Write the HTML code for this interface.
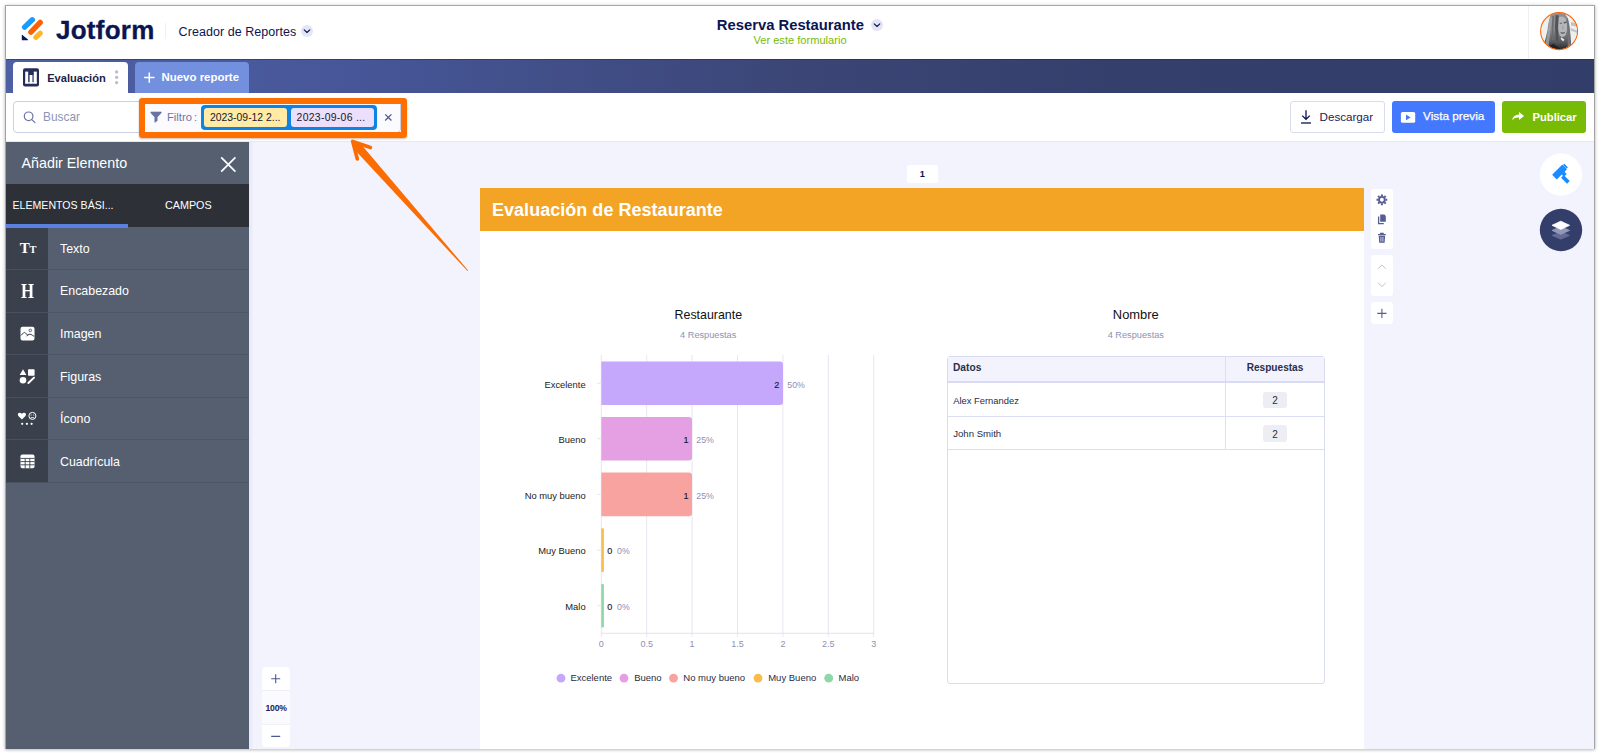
<!DOCTYPE html>
<html lang="es">
<head>
<meta charset="utf-8">
<title>Jotform - Creador de Reportes</title>
<style>
*{box-sizing:border-box;margin:0;padding:0}
html,body{width:1600px;height:755px;overflow:hidden;background:#fff}
body{font-family:"Liberation Sans",sans-serif;color:#0a1551;position:relative}
.abs,.t{position:absolute}
.t{white-space:nowrap;line-height:1}
.c{transform:translateX(-50%)}
#frame{position:absolute;left:5px;top:5px;width:1590px;height:744px;background:#fff;
 border-top:1px solid #a8a8a8;border-left:1px solid #a4a4a4;border-right:1px solid #a4a4a4;
 box-shadow:0 1px 3px rgba(0,0,0,.22), 0 0 4px rgba(0,0,0,.10)}
#app{position:absolute;left:6px;top:6px;width:1588px;height:742.7px;overflow:hidden;background:#fff}
/* everything inside #app is positioned in page coords via offset wrapper */
#o{position:absolute;left:-6px;top:-6px;width:1600px;height:755px}
#tabbar{left:6px;top:58.6px;width:1588px;height:34.4px;box-shadow:inset 0 1px 0 rgba(25,35,90,.45);background:linear-gradient(90deg,#4e60a4 0%,#47579a 20%,#3b4676 50%,#353f6c 70%,#333d69 100%)}
#tab1{left:13px;top:62px;width:115px;height:31px;background:#fff;border-radius:4px 4px 0 0}
#tab2{left:135px;top:62px;width:114px;height:31px;background:#7390de;border-radius:4px 4px 0 0}
#toolbar{left:6px;top:93px;width:1588px;height:49px;background:#fff;border-bottom:1px solid #e6e7f2}
#canvas{left:249px;top:142px;width:1345px;height:607px;background:#f3f3fe}
#side{left:6px;top:142px;width:243px;height:607px;background:#555f70}
</style>
</head>
<body>
<div id="frame"></div>
<div id="app"><div id="o">

<!-- HEADER -->
<div id="hdr">
<svg class="abs" style="left:20px;top:15px" width="26" height="28" viewBox="20 15 26 28">
 <line x1="24.6" y1="27.1" x2="32.3" y2="19.8" stroke="#1a9bff" stroke-width="5.4" stroke-linecap="round"/>
 <line x1="30.9" y1="32.1" x2="40.2" y2="22.4" stroke="#ff6100" stroke-width="5.4" stroke-linecap="round"/>
 <line x1="35.9" y1="37.3" x2="40.3" y2="33.2" stroke="#ffb629" stroke-width="5.2" stroke-linecap="round"/>
 <path d="M21.8 34.4 L28 39.6 Q28.3 40.2 27.6 40.2 L21.8 40.2 Z" fill="#0a1551"/>
</svg>
<span class="t" id="h_jot" style="left:56px;top:17px;font-size:26px;font-weight:700;letter-spacing:0.25px;-webkit-text-stroke:.3px #0a1551;color:#0a1551">Jotform</span>
<div class="abs" style="left:165px;top:23px;width:1px;height:16px;background:#eeeff8"></div>
<span class="t" id="h_cre" style="left:178.6px;top:26.2px;letter-spacing:.05px;font-size:12.5px;color:#0a1551">Creador de Reportes</span>
<svg class="abs" style="left:301px;top:25.3px" width="12" height="12" viewBox="0 0 12 12"><circle cx="6" cy="6" r="6" fill="#e3e5f5"/><path d="M3.2 4.9 L6 7.5 L8.8 4.9" fill="none" stroke="#0a1551" stroke-width="1.15" stroke-linecap="round" stroke-linejoin="round"/></svg>
<span class="t c" id="h_title" style="left:790.4px;top:17.6px;font-size:14.8px;font-weight:700;color:#0a1551">Reserva Restaurante</span>
<svg class="abs" style="left:871px;top:19px" width="12" height="12" viewBox="0 0 12 12"><circle cx="6" cy="6" r="6" fill="#e3e5f5"/><path d="M3.2 4.9 L6 7.5 L8.8 4.9" fill="none" stroke="#0a1551" stroke-width="1.15" stroke-linecap="round" stroke-linejoin="round"/></svg>
<span class="t c" id="h_ver" style="left:800px;top:34.5px;font-size:11.1px;color:#78bb07">Ver este formulario</span>
<div class="abs" style="left:1528px;top:6px;width:1px;height:53px;background:#efeff4"></div>
<svg class="abs" style="left:1536px;top:8px" width="46" height="46" viewBox="0 0 46 46">
 <defs><clipPath id="avc"><circle cx="23.1" cy="23.1" r="18.2"/></clipPath>
 <linearGradient id="avh" x1="0" y1="0" x2="0" y2="1"><stop offset="0" stop-color="#8e9093"/><stop offset=".45" stop-color="#85878b"/><stop offset=".75" stop-color="#5a5d61"/><stop offset="1" stop-color="#1d2022"/></linearGradient>
 <filter id="avb" x="-10%" y="-10%" width="120%" height="120%"><feGaussianBlur stdDeviation=".7"/></filter></defs>
 <g clip-path="url(#avc)"><g filter="url(#avb)">
  <rect width="46" height="46" fill="#eef0ef"/>
  <path d="M35 14 L43 16 L43 19 L35 17.5 Z M34.5 20 L43 23.5 L43 25.5 L34.5 22.5 Z" fill="#bfc3c3"/>
  <path d="M36 8 L40 12 L38 14 Z" fill="#8f9496"/>
  <path d="M15.5 5 L27 4 Q32.5 8 33.6 18 Q34.8 28 35.2 38 L30 43 L14 43 L7.5 37 Q10 30 11.5 22 Q12.5 12 15.5 5 Z" fill="url(#avh)"/>
  <path d="M13.5 10 Q12 24 9.5 36 L12.5 38 Q14.5 24 16.5 9 Z" fill="#a3a5a8" opacity=".8"/>
  <path d="M22.6 9 Q29.5 6.5 31 15 Q31.6 22 29.6 27.2 Q26.5 30.5 23.6 27.6 Q21.4 19 22.6 9 Z" fill="#b4b6b9"/>
  <path d="M19.6 7 Q18.4 20 20 33 L22.6 33 Q21 20 22.8 7.5 Z" fill="#4f5256"/>
  <path d="M16.4 8 Q15.4 20 16.2 32 L17.6 32 Q17 20 18 8 Z" fill="#6a6d71"/>
  <path d="M27.6 14 L30.6 13.4 L30.6 15 L27.8 15.4 Z" fill="#55585c"/>
  <path d="M23.6 15 L26 14.6 L26 15.8 L23.8 16 Z" fill="#6c6f73"/>
  <path d="M24.4 23.8 Q26.6 25.4 29 23.8 L28.6 25.2 Q26.6 26.4 24.8 25.2 Z" fill="#5c5f63"/>
  <path d="M26.8 17 L27.8 21 L26 21.4 Z" fill="#9a9c9f"/>
  <path d="M25.2 29.2 L28.4 31.6 L27.2 33.4 L24.8 31 Z" fill="#e9e9e9"/>
  <path d="M31.4 10 Q34 18 33.6 30 L35.4 38 L31.6 40 Q32.6 24 30.4 12 Z" fill="#6f7276"/>
  <path d="M11 44 Q13 38 17 35.5 Q22 39 30 44 Z" fill="#1b1e20" opacity=".8"/>
 </g></g>
 <circle cx="23.1" cy="23.1" r="18.5" fill="none" stroke="#ff6100" stroke-width="1.05"/>
</svg>
</div>

<!-- TAB BAR -->
<div class="abs" id="tabbar"></div>
<div class="abs" id="tab1"></div>
<svg class="abs" style="left:22px;top:67px" width="18" height="20" viewBox="0 0 18 20"><rect x="1" y="1.2" width="16" height="18.2" rx="2" fill="#252d5b"/><rect x="3.2" y="4.6" width="3" height="11.8" fill="#fff"/><rect x="7.6" y="8" width="2.8" height="8.4" fill="#fff"/><rect x="10.4" y="8" width="1" height="8.4" fill="#8d92b2"/><rect x="11.8" y="4.6" width="3" height="11.8" fill="#fff"/><rect x="3.2" y="15.2" width="11.6" height="1.4" fill="#fff"/></svg>
<span class="t" id="t_eval" style="left:47.2px;top:72.5px;font-size:11.1px;font-weight:700;color:#1c2145">Evaluación</span>
<svg class="abs" style="left:114px;top:69px" width="6" height="17" viewBox="0 0 6 17"><circle cx="2.6" cy="2.9" r="1.6" fill="#b6b9d0"/><circle cx="2.6" cy="8.3" r="1.6" fill="#b6b9d0"/><circle cx="2.6" cy="13.6" r="1.6" fill="#b6b9d0"/></svg>
<div class="abs" id="tab2"></div>
<svg class="abs" style="left:143px;top:71px" width="13" height="13" viewBox="0 0 13 13"><path d="M6.3 1.4 V11.8 M1.1 6.6 H11.5" stroke="#fff" stroke-width="1.5" fill="none"/></svg>
<span class="t" id="t_new" style="left:161.5px;top:72px;font-size:11.45px;font-weight:700;color:#fff">Nuevo reporte</span>

<!-- TOOLBAR -->
<div class="abs" id="toolbar"></div>
<div class="abs" style="left:13px;top:101px;width:140px;height:32px;border:1px solid #ccd0e3;border-radius:4px;background:#fff"></div>
<svg class="abs" style="left:21px;top:109px" width="17" height="17" viewBox="0 0 17 17"><circle cx="7.6" cy="7.3" r="4.3" fill="none" stroke="#6c73a8" stroke-width="1.2"/><path d="M10.8 10.6 L14 13.6" stroke="#6c73a8" stroke-width="1.2" stroke-linecap="round"/></svg>
<span class="t" id="t_bus" style="left:43px;top:112.4px;font-size:11.9px;color:#8f95b6">Buscar</span>
<!-- filter -->
<div class="abs" style="left:141px;top:101px;width:260px;height:32px;border:1px solid #ccd0e3;border-radius:4px;background:#fafaff"></div>
<svg class="abs" style="left:149px;top:110px" width="14" height="14" viewBox="0 0 14 14"><path d="M1.9 2 H12.2 V2.9 L8.2 7.2 V10.8 L5.8 12.3 V7.2 L1.9 2.9 Z" fill="#6b71a6" stroke="#6b71a6" stroke-width=".6" stroke-linejoin="round"/></svg>
<span class="t" id="t_fil" style="left:167px;top:112px;font-size:11.2px;color:#6f76a7">Filtro<span style="margin-left:2px">:</span></span>
<div class="abs" style="left:201px;top:104.5px;width:176px;height:25px;background:#0d84e3;border-radius:4px"></div>
<div class="abs" style="left:204px;top:107.9px;width:83.2px;height:19.1px;background:#ffeaa6;border-radius:3px"></div>
<div class="abs" style="left:290.5px;top:107.9px;width:83.5px;height:19.1px;background:#ebdffb;border-radius:3px"></div>
<span class="t" id="t_c1" style="left:210px;top:113px;font-size:10.4px;color:#15172b">2023-09-12 2...</span>
<span class="t" id="t_c2" style="left:296.6px;top:113px;font-size:10.4px;letter-spacing:.3px;color:#15172b">2023-09-06 ...</span>
<svg class="abs" style="left:383px;top:111.6px" width="11" height="11" viewBox="0 0 11 11"><path d="M2.2 2.3 L8.4 8.5 M8.4 2.3 L2.2 8.5" stroke="#4f5590" stroke-width="1.2" fill="none"/></svg>
<!-- right buttons -->
<div class="abs" style="left:1290px;top:101px;width:94.5px;height:32px;border:1px solid #d9dcea;border-radius:3px;background:#fff"></div>
<svg class="abs" style="left:1299px;top:108px" width="14" height="17" viewBox="0 0 14 17"><path d="M7 2.2 V11 M3.2 7.6 L7 11.3 L10.8 7.6" stroke="#0a1551" stroke-width="1.3" fill="none"/><path d="M2 15 H12" stroke="#0a1551" stroke-width="1.3"/></svg>
<span class="t" id="t_des" style="left:1319.5px;top:110.6px;font-size:11.65px;color:#1b2256">Descargar</span>
<div class="abs" style="left:1392px;top:101px;width:102.5px;height:32px;border-radius:3px;background:#4479ff"></div>
<svg class="abs" style="left:1400px;top:111px" width="16" height="13" viewBox="0 0 16 13"><rect x=".9" y="1" width="14.3" height="10.8" rx="1.6" fill="#fff"/><path d="M6 3.6 L10.6 6.4 L6 9.2 Z" fill="#4479ff"/></svg>
<span class="t" id="t_vis" style="left:1423px;top:111.1px;font-size:11.8px;color:#fff;-webkit-text-stroke:.25px #fff">Vista previa</span>
<div class="abs" style="left:1502.3px;top:101px;width:84px;height:32px;border-radius:3px;background:#78bb07"></div>
<svg class="abs" style="left:1511px;top:111px" width="14" height="11" viewBox="0 0 14 11"><path d="M8 1 L13 5 L8 9 V6.6 Q3.6 6.2 1 9.6 Q1.8 4 8 3.4 Z" fill="#fff"/></svg>
<span class="t" id="t_pub" style="left:1532.5px;top:111.6px;font-size:11.2px;font-weight:700;color:#fff">Publicar</span>

<!-- CANVAS -->
<div class="abs" id="canvas"></div>
<div class="abs" style="left:249px;top:142px;width:4px;height:607px;background:linear-gradient(90deg,#e6e6f5,#f0f0fc)"></div>
<div id="cv">
<div class="abs" style="left:906.5px;top:164.5px;width:31.5px;height:18.5px;background:#fff;border-radius:2px"></div>
<span class="t c" id="pg1" style="left:922.2px;top:169.6px;font-size:9.2px;font-weight:700;color:#0a1551">1</span>
<div class="abs" style="left:479.6px;top:187.6px;width:884.8px;height:561px;background:#fff"></div>
<div class="abs" style="left:479.6px;top:187.6px;width:884.8px;height:43.4px;background:#f3a424"></div>
<span class="t" id="pg_title" style="left:492px;top:200.9px;letter-spacing:.03px;font-size:18px;font-weight:700;color:#fff">Evaluación de Restaurante</span>
<span class="t c" id="c_t" style="left:708.3px;top:309.4px;font-size:12.4px;color:#111">Restaurante</span>
<span class="t c" id="c_s" style="left:708.2px;top:331.1px;font-size:9.2px;color:#8c91b6">4 Respuestas</span>
<svg class="abs" style="left:480px;top:345px" width="440" height="350" viewBox="480 345 440 350">
<line x1="601.3" y1="355" x2="601.3" y2="637" stroke="#e6e7f1" stroke-width="1"/>
<line x1="646.7" y1="355" x2="646.7" y2="637" stroke="#e6e7f1" stroke-width="1"/>
<line x1="692.1" y1="355" x2="692.1" y2="637" stroke="#e6e7f1" stroke-width="1"/>
<line x1="737.5" y1="355" x2="737.5" y2="637" stroke="#e6e7f1" stroke-width="1"/>
<line x1="782.9" y1="355" x2="782.9" y2="637" stroke="#e6e7f1" stroke-width="1"/>
<line x1="828.3" y1="355" x2="828.3" y2="637" stroke="#e6e7f1" stroke-width="1"/>
<line x1="873.7" y1="355" x2="873.7" y2="637" stroke="#e6e7f1" stroke-width="1"/>
<line x1="601.3" y1="633.3" x2="874" y2="633.3" stroke="#e0e1ee" stroke-width="1"/>
<path d="M601.3 361.6 H780.0 Q783.0 361.6 783.0 364.6 V402.0 Q783.0 405.0 780.0 405.0 H601.3 Z" fill="#c5a8fb"/>
<path d="M601.3 417.0 H689.0 Q692.0 417.0 692.0 420.0 V457.6 Q692.0 460.6 689.0 460.6 H601.3 Z" fill="#e4a0e3"/>
<path d="M601.3 472.6 H689.0 Q692.0 472.6 692.0 475.6 V513.3 Q692.0 516.3 689.0 516.3 H601.3 Z" fill="#f9a3a0"/>
<path d="M601.3 528.3 H602.6 Q603.9 528.3 603.9 529.6 V570.7 Q603.9 572.0 602.6 572.0 H601.3 Z" fill="#fbbc4b"/>
<path d="M601.3 584.0 H602.6 Q603.9 584.0 603.9 585.3 V626.2 Q603.9 627.5 602.6 627.5 H601.3 Z" fill="#90d6a9"/>
<line x1="597" y1="383.3" x2="601.3" y2="383.3" stroke="#e6e7f1" stroke-width="1"/>
<line x1="597" y1="438.8" x2="601.3" y2="438.8" stroke="#e6e7f1" stroke-width="1"/>
<line x1="597" y1="494.4" x2="601.3" y2="494.4" stroke="#e6e7f1" stroke-width="1"/>
<line x1="597" y1="550.1" x2="601.3" y2="550.1" stroke="#e6e7f1" stroke-width="1"/>
<line x1="597" y1="605.7" x2="601.3" y2="605.7" stroke="#e6e7f1" stroke-width="1"/>
<circle cx="561.0" cy="678.2" r="4.4" fill="#c5a8fb"/>
<circle cx="624.0" cy="678.2" r="4.4" fill="#e4a0e3"/>
<circle cx="673.5" cy="678.2" r="4.4" fill="#f9a3a0"/>
<circle cx="758.0" cy="678.2" r="4.4" fill="#fbbc4b"/>
<circle cx="828.7" cy="678.2" r="4.4" fill="#90d6a9"/>
</svg>
<span class="t" id="cat0" style="right:1014.4px;top:379.6px;font-size:9.4px;color:#222">Excelente</span>
<span class="t" id="cat1" style="right:1014.4px;top:435.1px;font-size:9.4px;color:#222">Bueno</span>
<span class="t" id="cat2" style="right:1014.4px;top:490.6px;font-size:9.4px;color:#222">No muy bueno</span>
<span class="t" id="cat3" style="right:1014.4px;top:546.1px;font-size:9.4px;color:#222">Muy Bueno</span>
<span class="t" id="cat4" style="right:1014.4px;top:601.6px;font-size:9.4px;color:#222">Malo</span>
<span class="t" id="v0" style="right:820.7px;top:380.5px;font-size:9px;font-weight:400;-webkit-text-stroke:.15px #16192e;color:#16192e">2</span>
<span class="t" id="p0" style="left:787.3px;top:380.5px;font-size:8.8px;color:#8c91b6">50%</span>
<span class="t" id="v1" style="right:911.4px;top:436.1px;font-size:9px;font-weight:400;-webkit-text-stroke:.15px #16192e;color:#16192e">1</span>
<span class="t" id="p1" style="left:696.3px;top:436.1px;font-size:8.8px;color:#8c91b6">25%</span>
<span class="t" id="v2" style="right:911.4px;top:491.6px;font-size:9px;font-weight:400;-webkit-text-stroke:.15px #16192e;color:#16192e">1</span>
<span class="t" id="p2" style="left:696.3px;top:491.6px;font-size:8.8px;color:#8c91b6">25%</span>
<span class="t" id="v3" style="left:607.3px;top:547.2px;font-size:9px;font-weight:400;-webkit-text-stroke:.15px #16192e;color:#16192e">0</span>
<span class="t" id="p3" style="left:617px;top:547.2px;font-size:8.8px;color:#8c91b6">0%</span>
<span class="t" id="v4" style="left:607.3px;top:602.7px;font-size:9px;font-weight:400;-webkit-text-stroke:.15px #16192e;color:#16192e">0</span>
<span class="t" id="p4" style="left:617px;top:602.7px;font-size:8.8px;color:#8c91b6">0%</span>
<span class="t c" id="ax0" style="left:601.3px;top:639.6px;font-size:9px;color:#8c91b6">0</span>
<span class="t c" id="ax1" style="left:646.7px;top:639.6px;font-size:9px;color:#8c91b6">0.5</span>
<span class="t c" id="ax2" style="left:692.1px;top:639.6px;font-size:9px;color:#8c91b6">1</span>
<span class="t c" id="ax3" style="left:737.5px;top:639.6px;font-size:9px;color:#8c91b6">1.5</span>
<span class="t c" id="ax4" style="left:782.9px;top:639.6px;font-size:9px;color:#8c91b6">2</span>
<span class="t c" id="ax5" style="left:828.3px;top:639.6px;font-size:9px;color:#8c91b6">2.5</span>
<span class="t c" id="ax6" style="left:873.7px;top:639.6px;font-size:9px;color:#8c91b6">3</span>
<span class="t" id="lg0" style="left:570.4px;top:673.4px;font-size:9.5px;color:#2a2c3f">Excelente</span>
<span class="t" id="lg1" style="left:634.2px;top:673.4px;font-size:9.5px;color:#2a2c3f">Bueno</span>
<span class="t" id="lg2" style="left:683.3px;top:673.4px;font-size:9.5px;color:#2a2c3f">No muy bueno</span>
<span class="t" id="lg3" style="left:768.2px;top:673.4px;font-size:9.5px;color:#2a2c3f">Muy Bueno</span>
<span class="t" id="lg4" style="left:838.5px;top:673.4px;font-size:9.5px;color:#2a2c3f">Malo</span>
<span class="t c" id="n_t" style="left:1135.8px;top:309.2px;font-size:12.9px;color:#111">Nombre</span>
<span class="t c" id="n_s" style="left:1135.8px;top:331.2px;font-size:9.2px;color:#8c91b6">4 Respuestas</span>
<div class="abs" style="left:947px;top:355.6px;width:378px;height:328px;border:1px solid #d9dbf2;border-radius:3px;background:#fff"></div>
<div class="abs" style="left:948px;top:356.6px;width:376px;height:26.8px;background:#f3f3fe;border-bottom:2px solid #d9dbf2"></div>
<div class="abs" style="left:948px;top:416.2px;width:376px;height:1px;background:#dcdef3"></div>
<div class="abs" style="left:948px;top:449.3px;width:376px;height:1px;background:#dcdef3"></div>
<div class="abs" style="left:1225px;top:356.6px;width:1px;height:93px;background:#dcdef3"></div>
<span class="t" id="th1" style="left:953px;top:362.7px;font-size:10.2px;font-weight:700;color:#2b2f4a">Datos</span>
<span class="t c" id="th2" style="left:1275px;top:362.7px;font-size:10.1px;font-weight:700;color:#2b2f4a">Respuestas</span>
<span class="t" id="td1" style="left:953.2px;top:395.6px;font-size:9.4px;color:#2a2c3f">Alex Fernandez</span>
<span class="t" id="td2" style="left:953.2px;top:428.7px;font-size:9.6px;color:#2a2c3f">John Smith</span>
<div class="abs" style="left:1263px;top:391.6px;width:24px;height:16.8px;background:#ededf4;border-radius:3px"></div>
<span class="t c" id="bd0" style="left:1275px;top:396.4px;font-size:10px;color:#2a2c3f">2</span>
<div class="abs" style="left:1263px;top:424.8px;width:24px;height:16.8px;background:#ededf4;border-radius:3px"></div>
<span class="t c" id="bd1" style="left:1275px;top:429.6px;font-size:10px;color:#2a2c3f">2</span>
<div class="abs" style="left:1371px;top:189px;width:22px;height:59.6px;background:#fff;border-radius:3px"></div>
<div class="abs" style="left:1371px;top:255.2px;width:22px;height:41px;background:#fff;border-radius:3px"></div>
<div class="abs" style="left:1371px;top:302.3px;width:22px;height:22.2px;background:#fff;border-radius:3px"></div>
<svg class="abs" style="left:1371px;top:189px" width="22" height="136" viewBox="0 0 22 136">
<g fill="none" stroke="#565c94" stroke-width="1.9"><circle cx="10.9" cy="10.8" r="2.9"/></g>
<g stroke="#565c94" stroke-width="2" stroke-linecap="butt"><path d="M10.9 5.4 V7 M10.9 14.6 V16.2 M5.5 10.8 H7.1 M14.7 10.8 H16.3 M7.1 7 L8.2 8.1 M13.6 13.5 L14.7 14.6 M14.7 7 L13.6 8.1 M8.2 13.5 L7.1 14.6"/></g>
<path d="M9.2 25.6 H13.4 L14.8 27 V32.8 H9.2 Z" fill="#565c94"/><path d="M7.6 27.6 V34.6 H12.8" fill="none" stroke="#565c94" stroke-width="1.3"/>
<path d="M7 45.6 H14.8 M9.6 45.4 V44.4 H12.2 V45.4" stroke="#565c94" stroke-width="1.1" fill="none"/><path d="M7.7 46.8 H14.1 L13.6 53.8 H8.2 Z" fill="#565c94"/><path d="M9.9 48 V52.6 M11.9 48 V52.6" stroke="#fff" stroke-width=".7"/>
<path d="M7.2 79.6 L10.9 76 L14.6 79.6" fill="none" stroke="#bcbfd7" stroke-width="1"/>
<path d="M7.2 94 L10.9 97.6 L14.6 94" fill="none" stroke="#bcbfd7" stroke-width="1"/>
<path d="M10.9 119.8 V129 M6.3 124.4 H15.5" stroke="#565c94" stroke-width="1.1" fill="none"/>
</svg>
<svg class="abs" style="left:1538px;top:151px" width="46" height="102" viewBox="1538 151 46 102">
<circle cx="1561" cy="174.5" r="21.2" fill="#fff"/>
<g transform="translate(1559.8 171.8) rotate(-45)"><rect x="-7.6" y="-3.3" width="14.6" height="6.6" rx=".7" fill="#1a8cff"/><rect x="7.2" y="-2.6" width="1.7" height="5.2" rx=".5" fill="#1a8cff"/><rect x="-.6" y="3" width="4" height="3.4" fill="#1a8cff"/></g>
<path d="M1562.4 176.3 L1568.4 182.3" stroke="#1a8cff" stroke-width="3.8" stroke-linecap="butt"/>
<circle cx="1561" cy="230" r="21.2" fill="#343e6b"/>
<path d="M1560.8 231.6 L1552 235.4 L1560.8 239.2 L1569.6 235.4 Z" fill="#626a95" stroke="#626a95" stroke-width=".8" stroke-linejoin="round"/>
<path d="M1560.8 226.4 L1552 230.4 L1560.8 234.4 L1569.6 230.4 Z" fill="#9298ba" stroke="#9298ba" stroke-width=".8" stroke-linejoin="round"/>
<path d="M1560.8 221.2 L1552 225.3 L1560.8 229.4 L1569.6 225.3 Z" fill="#fff" stroke="#fff" stroke-width=".8" stroke-linejoin="round"/>
</svg>
<div class="abs" style="left:262px;top:667.3px;width:28px;height:79.5px;background:#fff;border-radius:4px"></div>
<div class="abs" style="left:262px;top:689.6px;width:28px;height:35px;background:#fafaff;border-top:1px solid #f0f0f8;border-bottom:1px solid #f0f0f8"></div>
<svg class="abs" style="left:262px;top:667px" width="28" height="80" viewBox="0 0 28 80"><path d="M13.7 7.2 V16.2 M9.2 11.7 H18.2 M9.2 69.4 H18.2" stroke="#4f5692" stroke-width="1.1" fill="none"/></svg>
<span class="t c" id="z100" style="left:276.1px;top:703.8px;font-size:8.6px;font-weight:700;letter-spacing:-.2px;color:#1c2250">100%</span>
</div>

<!-- SIDE PANEL -->
<div class="abs" id="side"></div>
<span class="t" id="s_add" style="left:21.5px;top:155.6px;font-size:14.3px;color:#fff">Añadir Elemento</span>
<svg class="abs" style="left:219px;top:154.7px" width="19" height="19" viewBox="0 0 19 19"><path d="M2.2 2.4 L16.4 16.6 M16.4 2.4 L2.2 16.6" stroke="#fff" stroke-width="1.7" fill="none"/></svg>
<div class="abs" style="left:6px;top:184px;width:243px;height:43px;background:#2d3037"></div>
<div class="abs" style="left:6px;top:224.4px;width:121.5px;height:3.2px;background:#5a80e0"></div>
<span class="t" id="s_el" style="left:12.5px;top:200.4px;font-size:10.6px;color:#fff">ELEMENTOS BÁSI...</span>
<span class="t c" id="s_ca" style="left:188.3px;top:200.4px;font-size:10.8px;color:#fff">CAMPOS</span>
<div class="abs" style="left:6px;top:227.6px;width:42px;height:254.4px;background:#3a414d"></div>
<div id="items">
<div class="abs" style="left:6px;top:268.8px;width:42px;height:1px;background:#49515e"></div><div class="abs" style="left:48px;top:268.8px;width:201px;height:1px;background:#4d5666"></div>
<div class="abs" style="left:6px;top:311.5px;width:42px;height:1px;background:#49515e"></div><div class="abs" style="left:48px;top:311.5px;width:201px;height:1px;background:#4d5666"></div>
<div class="abs" style="left:6px;top:354.1px;width:42px;height:1px;background:#49515e"></div><div class="abs" style="left:48px;top:354.1px;width:201px;height:1px;background:#4d5666"></div>
<div class="abs" style="left:6px;top:396.5px;width:42px;height:1px;background:#49515e"></div><div class="abs" style="left:48px;top:396.5px;width:201px;height:1px;background:#4d5666"></div>
<div class="abs" style="left:6px;top:439.0px;width:42px;height:1px;background:#49515e"></div><div class="abs" style="left:48px;top:439.0px;width:201px;height:1px;background:#4d5666"></div>
<div class="abs" style="left:6px;top:481.5px;width:42px;height:1px;background:#49515e"></div><div class="abs" style="left:48px;top:481.5px;width:201px;height:1px;background:#4d5666"></div>
<span class="t" id="it0" style="left:60px;top:242.7px;font-size:12.4px;color:#fff">Texto</span>
<span class="t" id="it1" style="left:60px;top:285.0px;font-size:12.4px;color:#fff">Encabezado</span>
<span class="t" id="it2" style="left:60px;top:327.9px;font-size:12.4px;color:#fff">Imagen</span>
<span class="t" id="it3" style="left:60px;top:370.7px;font-size:12.4px;color:#fff">Figuras</span>
<span class="t" id="it4" style="left:60px;top:413.3px;font-size:12.4px;color:#fff">Ícono</span>
<span class="t" id="it5" style="left:60px;top:455.7px;font-size:12.4px;color:#fff">Cuadrícula</span>
<span class="t" id="ic_t" style="left:19.8px;top:241.2px;font-family:'Liberation Serif',serif;font-weight:700;font-size:15px;letter-spacing:-.4px;color:#fff">T<span style="font-size:10.4px">T</span></span>
<span class="t" id="ic_h" style="left:20.6px;top:280.8px;font-family:'Liberation Serif',serif;font-weight:700;font-size:20px;color:#fff;transform:scaleX(.84);transform-origin:0 0">H</span>
<svg class="abs" style="left:20px;top:326px" width="15" height="15" viewBox="0 0 15 15"><rect x=".5" y=".8" width="14" height="13.8" rx="2" fill="#fff"/><path d="M.8 9.6 L3.6 6.8 Q4.5 6 5.4 6.9 L8 9.6 M6.5 10 Q9 7.2 11 8.4 T14.2 10.4" stroke="#3a414d" stroke-width="1" fill="none"/><circle cx="10.3" cy="4.4" r="1.3" fill="none" stroke="#3a414d" stroke-width=".8"/></svg>
<svg class="abs" style="left:19px;top:368px" width="17" height="17" viewBox="0 0 17 17"><path d="M4 1.2 L7.4 7 H.7 Z" fill="#fff"/><rect x="9" y="1.2" width="6.6" height="6.6" rx=".8" fill="#fff"/><circle cx="4" cy="12.2" r="3.3" fill="#fff"/><path d="M9.4 15 L15 9.6" stroke="#fff" stroke-width="2" stroke-linecap="round"/></svg>
<svg class="abs" style="left:17px;top:411px" width="21" height="16" viewBox="0 0 21 16"><path d="M4.9 8.6 L1.3 4.9 Q.2 3.4 1.5 2.1 Q3.1 .9 4.9 2.8 Q6.7 .9 8.3 2.1 Q9.6 3.4 8.5 4.9 Z" fill="#fff"/><circle cx="15.4" cy="4.9" r="3.5" fill="none" stroke="#fff" stroke-width="1"/><circle cx="14.1" cy="4" r=".6" fill="#fff"/><circle cx="16.7" cy="4" r=".6" fill="#fff"/><path d="M13.7 6.6 H17.1" stroke="#fff" stroke-width=".8"/><circle cx="5.2" cy="12.8" r="1.1" fill="#fff"/><circle cx="9.9" cy="12.8" r="1.1" fill="#fff"/><circle cx="14.6" cy="12.8" r="1.1" fill="#fff"/></svg>
<svg class="abs" style="left:20px;top:454px" width="15" height="15" viewBox="0 0 15 15"><rect x=".5" y=".5" width="14" height="13.8" rx="1.8" fill="#fff"/><path d="M.5 4.4 H14.5 M.5 7.6 H14.5 M.5 10.8 H14.5 M5.2 4.4 V14.3 M9.8 4.4 V14.3" stroke="#3a414d" stroke-width=".9" fill="none"/></svg>
</div>

<!-- ANNOTATION -->
<div class="abs" style="left:139px;top:98px;width:268px;height:40.2px;border:6px solid #ff6f00;border-top-width:6.5px;border-radius:3px;box-shadow:0 1px 2px rgba(120,60,0,.35)"></div>
<svg class="abs" style="left:340px;top:135px" width="140" height="145" viewBox="340 135 140 145">
 <path d="M352.7 141.4 L360.4 143.6 L468.2 270.5 L467.5 271.1 L354 149 Z" fill="#fb6d02"/>
 <path d="M370.4 147.5 L352.7 141.4 L357.3 158.9" fill="none" stroke="#fb6d02" stroke-width="3.7" stroke-linecap="round" stroke-linejoin="round"/>
</svg>

</div></div>
</body>
</html>
